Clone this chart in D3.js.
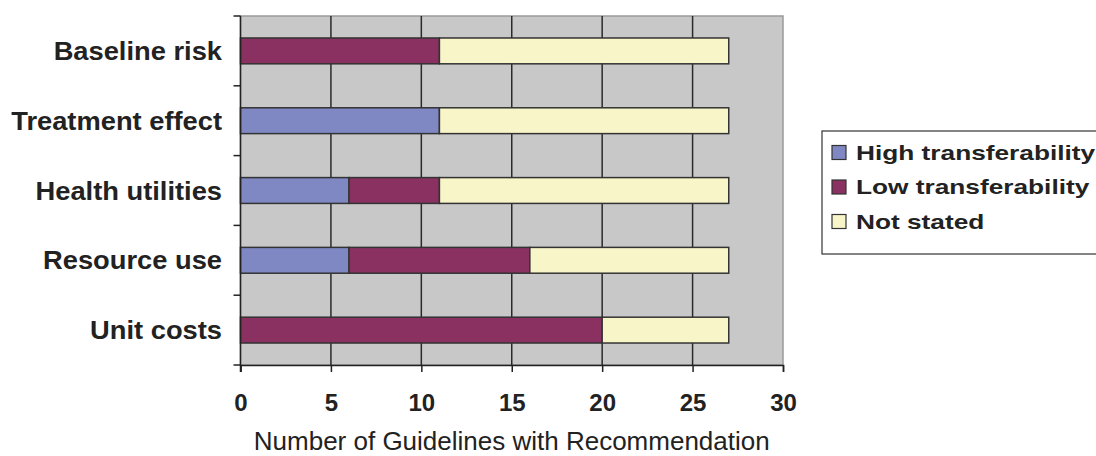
<!DOCTYPE html>
<html><head><meta charset="utf-8">
<script src="https://cdn.jsdelivr.net/npm/d3@7"></script>
<style>body{margin:0;background:#fff;} svg{display:block;font-family:"Liberation Sans",Arial,sans-serif;}</style>
</head><body><svg id="c" width="1096" height="456"></svg>
<script>
const categories = ["Baseline risk","Treatment effect","Health utilities","Resource use","Unit costs"];
const seriesNames = ["High transferability","Low transferability","Not stated"];
const highValues = [0, 11, 6, 6, 0];
const lowValues = [11, 0, 5, 10, 20];
const notStatedValues = [16, 16, 16, 11, 7];
const xTicks = [0,5,10,15,20,25,30];
const colors = ["#8088c4","#8b3162","#f8f6c8"];

const svg = d3.select("#c");
const m = {l:240.5, r:783, t:16, b:365};
const x = d3.scaleLinear().domain([0,30]).range([m.l, m.r]);
const y = d3.scaleBand().domain(categories).range([m.t, m.b]).paddingInner(0.63).paddingOuter(0.315);
const yb = d3.scaleBand().domain(categories).range([m.t, m.b]);

// plot bg
svg.append("rect").attr("x",m.l).attr("y",m.t).attr("width",m.r-m.l).attr("height",m.b-m.t)
  .attr("fill","#c8c8c8").attr("stroke","#9a9a9a").attr("stroke-width",1.5);
// grid
svg.append("g").selectAll("line").data(xTicks.slice(1,-1)).join("line")
  .attr("x1",d=>x(d)).attr("x2",d=>x(d)).attr("y1",m.t).attr("y2",m.b)
  .attr("stroke","#2a2a2a").attr("stroke-width",1.5);

// stacked data
const rows = categories.map((c,i)=>({cat:c, v:[highValues[i], lowValues[i], notStatedValues[i]]}));
const g = svg.append("g");
rows.forEach(r=>{
  let acc = 0;
  r.v.forEach((v,k)=>{
    if (v>0){
      g.append("rect").attr("x",x(acc)).attr("y",y(r.cat)).attr("width",x(acc+v)-x(acc)).attr("height",y.bandwidth())
        .attr("fill",colors[k]).attr("stroke","#333").attr("stroke-width",1.5);
    }
    acc += v;
  });
});

// axes
const xAxis = d3.axisBottom(x).tickValues(xTicks).tickSize(7).tickPadding(22);
const gx = svg.append("g").attr("transform",`translate(0,${m.b})`).call(xAxis);
gx.select(".domain").attr("stroke","#222").attr("stroke-width",1.5);
gx.selectAll(".tick line").attr("stroke","#222").attr("stroke-width",1.5);
gx.selectAll("text").attr("font-size",24).attr("font-weight","bold").attr("fill","#222").attr("font-family","Liberation Sans, Arial, sans-serif");

// y axis line and ticks between categories
svg.append("line").attr("x1",m.l).attr("x2",m.l).attr("y1",m.t).attr("y2",m.b+7).attr("stroke","#222").attr("stroke-width",1.5);
const bounds = categories.map(c=>yb(c)).concat([m.b]);
svg.append("g").selectAll("line").data(bounds).join("line")
  .attr("x1",m.l-7).attr("x2",m.l).attr("y1",d=>d).attr("y2",d=>d).attr("stroke","#222").attr("stroke-width",1.5);
svg.append("g").selectAll("text").data(categories).join("text")
  .attr("transform",d=>`translate(222,${yb(d)+yb.bandwidth()/2}) scale(1.05,1)`).attr("dy","0.35em")
  .attr("text-anchor","end").attr("font-size",26).attr("font-weight","bold").attr("fill","#222").text(d=>d);

svg.append("text").attr("x",(m.l+m.r)/2).attr("y",450).attr("text-anchor","middle")
  .attr("font-size",26).attr("fill","#222").text("Number of Guidelines with Recommendation");

// legend
const lg = svg.append("g");
lg.append("rect").attr("x",822).attr("y",131).attr("width",290).attr("height",123).attr("fill","#fff").attr("stroke","#333").attr("stroke-width",1.2);
seriesNames.forEach((s,i)=>{
  const by = 159.5 + i*34.5;
  lg.append("rect").attr("x",832).attr("y",by-14).attr("width",14).attr("height",14).attr("fill",colors[i]).attr("stroke","#333").attr("stroke-width",1.2);
  lg.append("text").attr("transform",`translate(856,${by}) scale(1.25,1)`).attr("font-size",21).attr("font-weight","bold").attr("fill","#222").text(s);
});
</script></body></html>
